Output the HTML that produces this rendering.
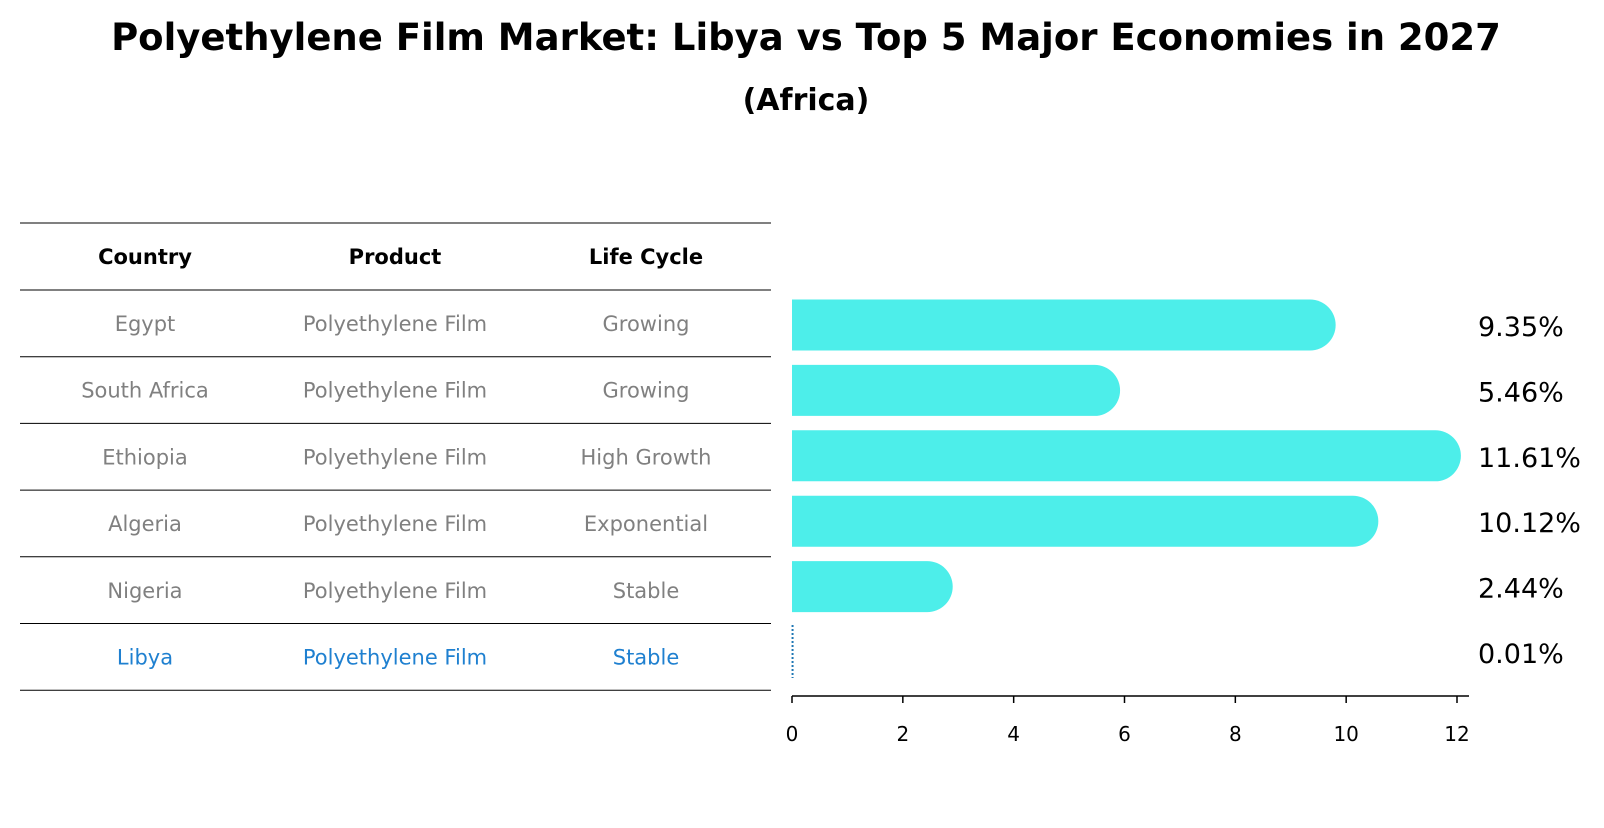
<!DOCTYPE html>
<html><head><meta charset="utf-8">
<style>
html,body{margin:0;padding:0;background:#fff;}
body{width:1604px;height:823px;overflow:hidden;font-family:"Liberation Sans","DejaVu Sans",sans-serif;}
</style></head>
<body>
<svg id="chart" width="1604" height="823" xmlns="http://www.w3.org/2000/svg" font-family="DejaVu Sans, Liberation Sans, sans-serif">
<text x="806" y="50" text-anchor="middle" font-size="37" font-weight="bold">Polyethylene Film Market: Libya vs Top 5 Major Economies in 2027</text>
<text x="806" y="110" text-anchor="middle" font-size="30" font-weight="bold">(Africa)</text>
<g id="table"></g>
<g id="bars"></g>
<g id="axis"></g>
</svg>
<script>
const countries = ["Egypt","South Africa","Ethiopia","Algeria","Nigeria","Libya"];
const products = ["Polyethylene Film","Polyethylene Film","Polyethylene Film","Polyethylene Film","Polyethylene Film","Polyethylene Film"];
const lifeCycles = ["Growing","Growing","High Growth","Exponential","Stable","Stable"];
const values = [9.35,5.46,11.61,10.12,2.44,0.01];
const valueLabels = ["9.35%","5.46%","11.61%","10.12%","2.44%","0.01%"];
const xTicks = [0,2,4,6,8,10,12];

const NS="http://www.w3.org/2000/svg";
function mk(tag,attrs,parent,text){const e=document.createElementNS(NS,tag);for(const k in attrs)e.setAttribute(k,attrs[k]);if(text!==undefined)e.textContent=text;parent.appendChild(e);return e;}
const x0=792, unit=(1457-792)/12;
const xs=v=>x0+v*unit;
const rowY=i=>325+i*65.4;
const barH=51;

const table=document.getElementById('table');
const lineYs=[223,290];
for(let i=0;i<countries.length;i++) lineYs.push(290+(i+1)*66.7);
lineYs.forEach((y,i)=>{
  const l=mk('line',{x1:20,x2:771,y1:y,y2:y,stroke:'#000','stroke-width':1},table);
  
  
});
const colX=[145,395,646];
["Country","Product","Life Cycle"].forEach((h,j)=>{
  const t=mk('text',{x:colX[j],y:264,'text-anchor':'middle','font-size':21,'font-weight':'bold'},table,h);
  
  
});
countries.forEach((c,i)=>{
  const y=323+i*66.7+8;
  const col=c==="Libya"?'#1f80d0':'#808080';
  [c,products[i],lifeCycles[i]].forEach((txt,j)=>{
    const t=mk('text',{x:colX[j],y:y,'text-anchor':'middle','font-size':21,fill:col},table,txt);
    
    
  });
});

const bars=document.getElementById('bars');
values.forEach((v,i)=>{
  const cy=rowY(i);
  if(countries[i]==="Libya"){
    const l=mk('line',{x1:xs(v),x2:xs(v),y1:cy-27,y2:cy+26,stroke:'#1f77b4','stroke-width':2,'stroke-dasharray':'2,2'},bars);
    
    
  } else {
    const r=barH/2, w=xs(v)-x0;
    const p=mk('path',{d:`M${x0},${cy-r} H${x0+w} A${r},${r} 0 0 1 ${x0+w},${cy+r} H${x0} Z`,fill:'#4deeea'},bars);
    
    
  }
  const t=mk('text',{x:1478,y:cy+11,'font-size':27},bars,valueLabels[i]);
  
  
});

const axis=document.getElementById('axis');
const al=mk('line',{x1:x0,x2:1469,y1:696,y2:696,stroke:'#000','stroke-width':1.5},axis);


xTicks.forEach(t=>{
  const tk=mk('line',{x1:xs(t),x2:xs(t),y1:696,y2:703,stroke:'#000','stroke-width':1.5},axis);
  
  
  const tl=mk('text',{x:xs(t),y:741,'text-anchor':'middle','font-size':20},axis,String(t));
  
  
});
</script>
</body></html>
